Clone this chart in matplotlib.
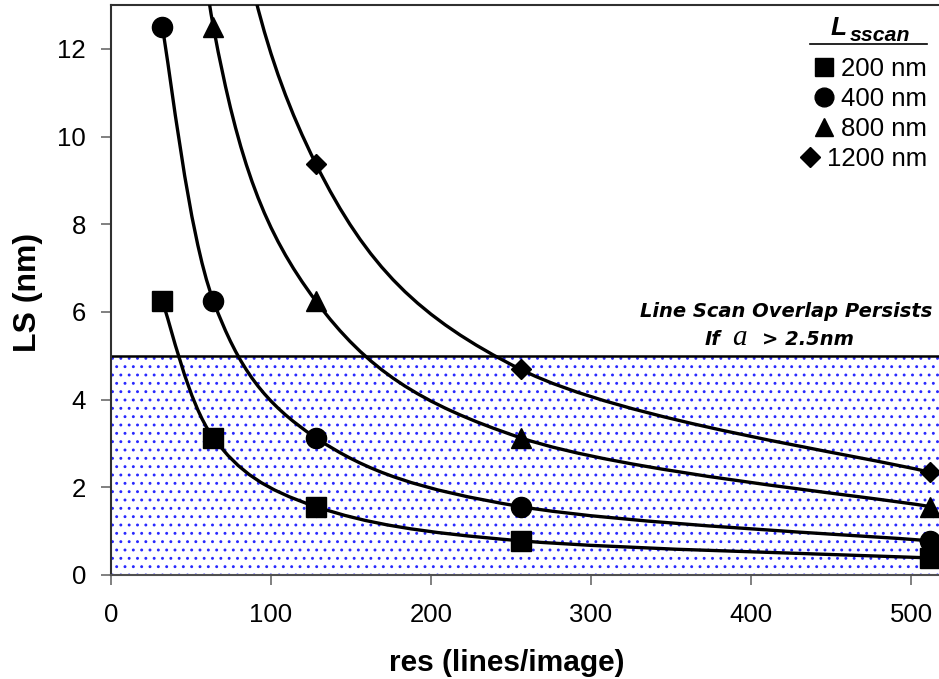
import matplotlib.pyplot as plt
from matplotlib.path import Path
from matplotlib.patches import PathPatch

plt.rcParams['font.family'] = ['Liberation Sans', 'DejaVu Sans']
plt.rcParams['hatch.color'] = '#2828ff'
plt.rcParams['hatch.linewidth'] = 0.9

# line scan size LS (nm) for each scan length, at each image resolution
res = [32, 64, 128, 256, 512]
ls_200 = [6.25, 3.13, 1.56, 0.78, 0.39]
ls_400 = [12.5, 6.25, 3.13, 1.56, 0.78]
ls_800 = [25.0, 12.5, 6.25, 3.13, 1.56]
ls_1200 = [37.5, 18.75, 9.38, 4.69, 2.34]
series = [ls_200, ls_400, ls_800, ls_1200]
series_labels = ['200 nm', '400 nm', '800 nm', '1200 nm']
series_markers = ['s', 'o', '^', 'D']
marker_sizes = [14, 14.5, 14, 10.5]
legend_sizes = [13, 13.5, 13, 10]

overlap_limit = 5.0
x_ticks = [0, 100, 200, 300, 400, 500]
y_ticks = [0, 2, 4, 6, 8, 10, 12]

W, H = 939, 679


def fx(px):
    return px / W


def fy(py):
    return 1 - py / H


def smooth_path(xs, ys):
    # cubic bezier through all points, tangent at each point from its neighbours
    pts = list(zip(xs, ys))
    n = len(pts)
    verts = [pts[0]]
    codes = [Path.MOVETO]
    for i in range(n - 1):
        p0 = pts[max(i - 1, 0)]
        p1 = pts[i]
        p2 = pts[i + 1]
        p3 = pts[min(i + 2, n - 1)]
        c1 = (p1[0] + (p2[0] - p0[0]) / 6, p1[1] + (p2[1] - p0[1]) / 6)
        c2 = (p2[0] - (p3[0] - p1[0]) / 6, p2[1] - (p3[1] - p1[1]) / 6)
        verts += [c1, c2, p2]
        codes += [Path.CURVE4] * 3
    return Path(verts, codes)


fig = plt.figure(figsize=(W / 100, H / 100), dpi=100)
ax = fig.add_axes([fx(111), 1 - 575 / H, fx(864), 570 / H])

# region where line scans still overlap
ax.axhspan(0, overlap_limit, facecolor='white', edgecolor='#2828ff',
           hatch='..', linewidth=0, zorder=0)
ax.axhline(overlap_limit, color='black', lw=1.8, zorder=2)

for vals, m, ms in zip(series, series_markers, marker_sizes):
    ax.add_patch(PathPatch(smooth_path(res, vals), facecolor='none',
                           edgecolor='black', lw=2.4, zorder=3))
    ax.plot(res, vals, ls='none', marker=m, ms=ms, color='black', zorder=4)

ax.set_xlim(0, 540)
ax.set_ylim(0, 13)
ax.set_xticks(x_ticks)
ax.set_yticks(y_ticks)
ax.tick_params(axis='both', length=7, width=1.4, color='#808080',
               labelsize=18.5, labelcolor='black')
ax.tick_params(axis='x', pad=13)
ax.tick_params(axis='y', pad=11)
ax.spines['right'].set_visible(False)
for side in ['left', 'top']:
    ax.spines[side].set_color('#303030')
    ax.spines[side].set_linewidth(1.5)
ax.spines['bottom'].set_color('#505050')
ax.spines['bottom'].set_linewidth(1.5)

fig.text(fx(507), fy(663), 'res (lines/image)', fontsize=21.5,
         fontweight='bold', ha='center', va='center')
fig.text(fx(28), fy(292), 'LS (nm)', fontsize=23, fontweight='bold',
         ha='center', va='center', rotation=90)

fig.canvas.draw()
renderer = fig.canvas.get_renderer()

# note above the shaded band
note_style = dict(family='DejaVu Sans', fontsize=14, fontweight='bold',
                  style='italic', va='baseline', ha='left')
fig.text(fx(786), fy(317), 'Line Scan Overlap Persists',
         **{**note_style, 'ha': 'center'})
fig.text(fx(705), fy(345), 'If', **note_style)
fig.text(fx(732), fy(345), 'a', family='Liberation Serif', fontsize=21,
         style='italic', ha='left', va='baseline')
fig.text(fx(762), fy(345), '> 2.5nm', **note_style)

# legend: title with underline, then right aligned entries
fig.text(fx(831), fy(35), 'L', fontsize=19, fontweight='bold',
         style='italic', ha='left', va='baseline')
fig.text(fx(850), fy(41), 'sscan', fontsize=15.3, fontweight='bold',
         style='italic', ha='left', va='baseline')
fig.add_artist(plt.Line2D([fx(810), fx(927)], [fy(43.5), fy(43.5)],
                          color='black', lw=1.2))

row_centers = [67, 97, 127, 157]
for label, m, ms, yc in zip(series_labels, series_markers, legend_sizes,
                            row_centers):
    t = fig.text(fx(927), fy(yc + 9.3), label, fontsize=18.5, ha='right',
                 va='baseline')
    left = t.get_window_extent(renderer).x0
    fig.add_artist(plt.Line2D([(left - 17) / W], [fy(yc)], ls='none',
                              marker=m, ms=ms, color='black'))

fig.savefig('out.png', dpi=100)
